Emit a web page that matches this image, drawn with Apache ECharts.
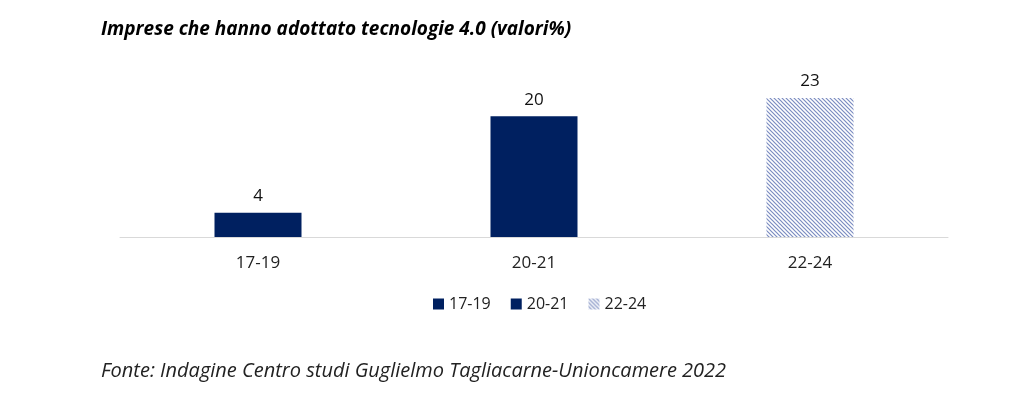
<!DOCTYPE html>
<html>
<head>
<meta charset="utf-8">
<script src="https://cdn.jsdelivr.net/npm/echarts@6/dist/echarts.min.js"></script>
<style>
  html, body { margin: 0; padding: 0; background: #fff; }
  #chart { width: 1024px; height: 397px; }
</style>
</head>
<body>
<div id="chart"></div>
<script>
const categories = ['17-19', '20-21', '22-24'];
const values = [4, 20, 23];
const seriesNames = ['17-19', '20-21', '22-24'];

// hatch pattern for the last bar
const hatch = document.createElement('canvas');
hatch.width = 4;
hatch.height = 4;
const hctx = hatch.getContext('2d');
hctx.fillStyle = '#ffffff';
hctx.fillRect(0, 0, 4, 4);
hctx.strokeStyle = '#7b8cc0';
hctx.lineWidth = 1.2;
hctx.beginPath();
hctx.moveTo(-1, -1); hctx.lineTo(5, 5);
hctx.moveTo(-1, 3); hctx.lineTo(1, 5);
hctx.moveTo(3, -1); hctx.lineTo(5, 1);
hctx.stroke();

const navy = '#002060';
const colors = [navy, navy, { image: hatch, repeat: 'repeat' }];

const chart = echarts.init(document.getElementById('chart'));

const series = seriesNames.map((name, i) => ({
  name: name,
  type: 'bar',
  stack: 'all',
  barWidth: 87,
  data: values.map((v, j) => (j === i ? v : '-')),
  itemStyle: { color: colors[i] },
  label: {
    show: true,
    position: 'top',
    distance: 8,
    color: '#111',
    fontSize: 17,
    fontFamily: 'Open Sans'
  }
}));

chart.setOption({
  animation: false,
  title: [
    {
      text: 'Imprese che hanno adottato tecnologie 4.0 (valori%)',
      left: 96, top: 15,
      textStyle: { fontSize: 19, fontWeight: 'bold', fontStyle: 'italic', color: '#000', fontFamily: 'Open Sans' }
    },
    {
      text: 'Fonte: Indagine Centro studi Guglielmo Tagliacarne-Unioncamere 2022',
      left: 96, top: 356,
      textStyle: { fontSize: 20, fontWeight: 'normal', fontStyle: 'italic', color: '#222', fontFamily: 'Open Sans' }
    }
  ],
  legend: {
    top: 291,
    left: 428,
    itemWidth: 11,
    itemHeight: 11,
    itemGap: 20,
    icon: 'rect',
    textStyle: { fontSize: 16, color: '#222', fontFamily: 'Open Sans' },
    data: seriesNames
  },
  grid: { left: 120, right: 76, top: 86, bottom: 160 },
  xAxis: {
    type: 'category',
    data: categories,
    axisLine: { lineStyle: { color: '#d9d9d9' } },
    axisTick: { show: false },
    axisLabel: { fontSize: 17, color: '#222', margin: 18, fontFamily: 'Open Sans' }
  },
  yAxis: {
    type: 'value',
    min: 0,
    max: 25,
    show: false,
    splitLine: { show: false }
  },
  series: series
});
</script>
</body>
</html>
